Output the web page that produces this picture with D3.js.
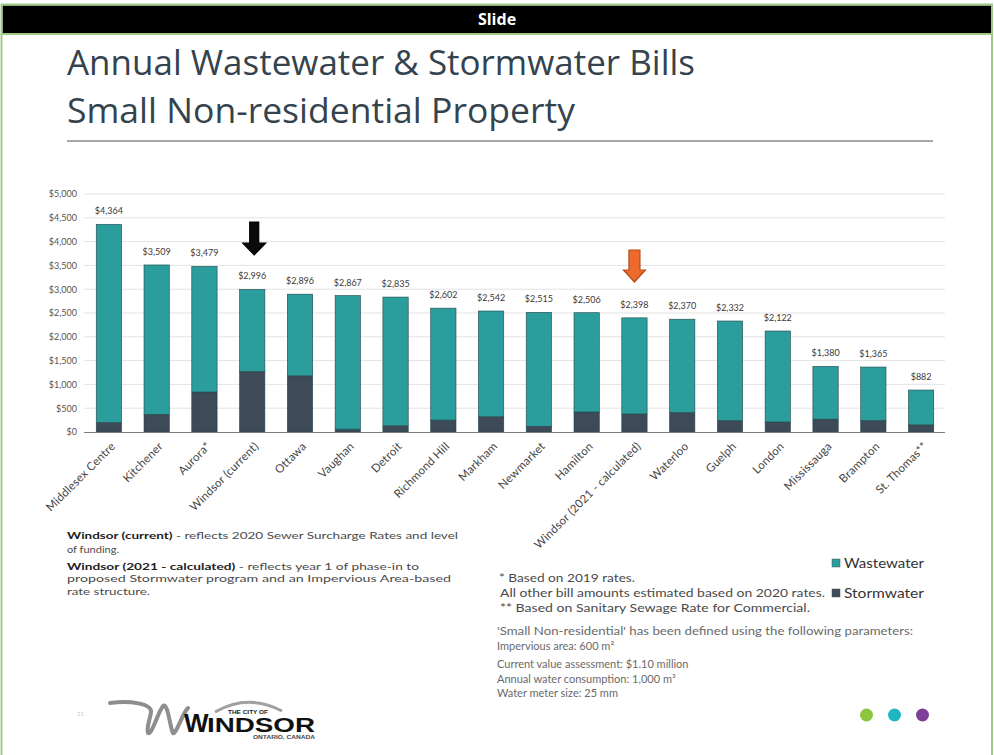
<!DOCTYPE html>
<html>
<head>
<meta charset="utf-8">
<script src="https://cdn.jsdelivr.net/npm/d3@7"></script>
<style>
  html, body { margin: 0; padding: 0; background: #fff; }
  svg { display: block; }
</style>
</head>
<body>
<svg id="slide" width="994" height="755"></svg>
<script>
// ---- Data: annual bills for a small non-residential property ----
const categories = [
  "Middlesex Centre", "Kitchener", "Aurora*", "Windsor (current)", "Ottawa",
  "Vaughan", "Detroit", "Richmond Hill", "Markham", "Newmarket", "Hamilton",
  "Windsor (2021 - calculated)", "Waterloo", "Guelph", "London",
  "Mississauga", "Brampton", "St. Thomas**"
];
const stormwater = [200, 370, 840, 1270, 1180, 60, 130, 250, 320, 120, 420, 380, 410, 240, 210, 270, 240, 150];
const wastewater = [4164, 3139, 2639, 1726, 1716, 2807, 2705, 2352, 2222, 2395, 2086, 2018, 1960, 2092, 1912, 1110, 1125, 732];
const yTicks = [0, 500, 1000, 1500, 2000, 2500, 3000, 3500, 4000, 4500, 5000];
const seriesNames = ["Wastewater", "Stormwater"];
const markedCurrent = "Windsor (current)";
const markedProposed = "Windsor (2021 - calculated)";

const colors = { Wastewater: "#2a9d9c", Stormwater: "#3e4a58" };
const bodyFont = "Lato, 'Noto Sans', sans-serif";

const svg = d3.select("#slide");

// ---- Slide frame and header ----
svg.append("rect").attr("x", 0).attr("y", 0).attr("width", 994).attr("height", 755).attr("fill", "#fff");
svg.append("rect").attr("x", 2.5).attr("y", 5.5).attr("width", 989).attr("height", 28).attr("fill", "#000");
svg.append("rect").attr("x", 1.5).attr("y", 4.5).attr("width", 990.5).attr("height", 760)
  .attr("fill", "none").attr("stroke", "#9fcc84").attr("stroke-width", 2);
svg.append("line").attr("x1", 1).attr("x2", 992).attr("y1", 34).attr("y2", 34)
  .attr("stroke", "#9fcc84").attr("stroke-width", 2);
svg.append("text").attr("x", 497).attr("y", 25).attr("text-anchor", "middle")
  .attr("fill", "#fff").attr("font-family", "'Open Sans', 'Noto Sans', sans-serif")
  .attr("font-weight", 700).attr("font-size", 16).text("Slide");

// ---- Title ----
const titleFont = "'Open Sans', 'Noto Sans', sans-serif";
svg.append("text").attr("x", 67).attr("y", 75).attr("fill", "#34434e")
  .attr("font-family", titleFont).attr("font-weight", 400).attr("font-size", 35)
  .attr("textLength", 628).attr("lengthAdjust", "spacingAndGlyphs")
  .text("Annual Wastewater & Stormwater Bills");
svg.append("text").attr("x", 67).attr("y", 122.5).attr("fill", "#34434e")
  .attr("font-family", titleFont).attr("font-weight", 400).attr("font-size", 35)
  .attr("textLength", 508).attr("lengthAdjust", "spacingAndGlyphs")
  .text("Small Non-residential Property");
svg.append("line").attr("x1", 67).attr("x2", 933).attr("y1", 141).attr("y2", 141)
  .attr("stroke", "#8a8a8a").attr("stroke-width", 1.5);

// ---- Chart scales ----
const x = d3.scaleBand().domain(categories).range([85, 945]).paddingInner(0.47).paddingOuter(0.235);
const y = d3.scaleLinear().domain([0, 5000]).range([432, 194]);

const rows = categories.map((c, i) => ({
  category: c,
  Stormwater: stormwater[i],
  Wastewater: wastewater[i],
  total: stormwater[i] + wastewater[i]
}));
const stack = d3.stack().keys(["Stormwater", "Wastewater"]);
const layers = stack(rows);

const chart = svg.append("g");

// gridlines
chart.append("g").selectAll("line").data(yTicks.filter(t => t > 0)).join("line")
  .attr("x1", 84).attr("x2", 945)
  .attr("y1", d => y(d)).attr("y2", d => y(d))
  .attr("stroke", "#e3e3e3").attr("stroke-width", 1);

// y axis labels
const yAxis = d3.axisLeft(y).tickValues(yTicks).tickSize(0).tickPadding(0)
  .tickFormat(d => "$" + d3.format(",")(d));
const yg = chart.append("g").attr("transform", "translate(77,0)").call(yAxis);
yg.select(".domain").remove();
yg.selectAll("text").attr("font-family", bodyFont).attr("font-size", 9).attr("fill", "#555");

// stacked bars
chart.append("g").selectAll("g").data(layers).join("g")
  .attr("fill", d => colors[d.key])
  .selectAll("rect").data(d => d).join("rect")
  .attr("x", d => x(d.data.category))
  .attr("width", x.bandwidth())
  .attr("y", d => y(d[1]))
  .attr("height", d => y(d[0]) - y(d[1]))
  .attr("stroke", "#24474c").attr("stroke-width", 0.6);

// x axis baseline
chart.append("line").attr("x1", 84).attr("x2", 945).attr("y1", 432.5).attr("y2", 432.5)
  .attr("stroke", "#7f7f7f").attr("stroke-width", 1.2);

// total value labels
chart.append("g").selectAll("text").data(rows).join("text")
  .attr("x", d => x(d.category) + x.bandwidth() / 2)
  .attr("y", d => y(d.total) - 10)
  .attr("text-anchor", "middle")
  .attr("font-family", bodyFont).attr("font-size", 9).attr("fill", "#3a3a3a")
  .text(d => "$" + d3.format(",")(d.total));

// category labels rotated
const xAxis = d3.axisBottom(x).tickSize(0).tickPadding(0);
const xg = chart.append("g").attr("transform", "translate(0,432)").call(xAxis);
xg.select(".domain").remove();
xg.selectAll("text")
  .attr("font-family", bodyFont).attr("font-size", 11.5).attr("fill", "#444")
  .attr("letter-spacing", 0.2)
  .attr("text-anchor", "end")
  .attr("dy", 0)
  .attr("transform", "translate(7,15) rotate(-45)");

// ---- Arrows pointing at the two Windsor bars ----
function downArrow(cx, top, shaftW, shaftLen, headW, headLen, fill, stroke) {
  const p = d3.path();
  p.moveTo(cx - shaftW / 2, top);
  p.lineTo(cx + shaftW / 2, top);
  p.lineTo(cx + shaftW / 2, top + shaftLen);
  p.lineTo(cx + headW / 2, top + shaftLen);
  p.lineTo(cx, top + shaftLen + headLen);
  p.lineTo(cx - headW / 2, top + shaftLen);
  p.lineTo(cx - shaftW / 2, top + shaftLen);
  p.closePath();
  svg.append("path").attr("d", p.toString()).attr("fill", fill)
    .attr("stroke", stroke).attr("stroke-width", 1.2).attr("stroke-linejoin", "miter");
}
downArrow(x(markedCurrent) + x.bandwidth() / 2 + 2, 222, 9, 21, 23, 12, "#0a0a0a", "#000");
downArrow(x(markedProposed) + x.bandwidth() / 2, 250, 11, 20, 22, 12, "#eb6a2c", "#b44c1c");

// ---- Legend ----
const legend = svg.append("g");
seriesNames.forEach((name, i) => {
  const ly = 563 + i * 30;
  legend.append("rect").attr("x", 832).attr("y", ly - 4).attr("width", 8).attr("height", 8)
    .attr("fill", colors[name]).attr("stroke", "#4a5a5a").attr("stroke-width", 0.5);
  legend.append("text").attr("x", 844).attr("y", ly + 4.5)
    .attr("font-family", bodyFont).attr("font-size", 13).attr("fill", "#333")
    .attr("textLength", 80).attr("lengthAdjust", "spacingAndGlyphs")
    .text(name);
});

// ---- Notes, left column ----
const notesL = svg.append("g").attr("font-family", bodyFont).attr("font-size", 10).attr("fill", "#4a4a4a");
function richLine(g, xPos, yPos, boldPart, rest, len) {
  const t = g.append("text").attr("x", xPos).attr("y", yPos);
  if (len) t.attr("textLength", len).attr("lengthAdjust", "spacingAndGlyphs");
  if (boldPart) t.append("tspan").attr("font-weight", 700).attr("fill", "#222").text(boldPart);
  t.append("tspan").text(rest);
}
richLine(notesL, 67, 539, "Windsor (current)", " - reflects 2020 Sewer Surcharge Rates and level", 391);
richLine(notesL, 67, 553, null, "of funding.", 52);
richLine(notesL, 67, 569.5, "Windsor (2021 - calculated)", " - reflects year 1 of phase-in to", 352);
richLine(notesL, 67, 582, null, "proposed Stormwater program and an Impervious Area-based", 384);
richLine(notesL, 67, 594.5, null, "rate structure.", 83);

// ---- Notes, right column ----
const notesR = svg.append("g").attr("font-family", bodyFont).attr("font-size", 12).attr("fill", "#4a4a4a");
notesR.append("text").attr("x", 499).attr("y", 582).attr("textLength", 136).attr("lengthAdjust", "spacingAndGlyphs")
  .text("* Based on 2019 rates.");
notesR.append("text").attr("x", 500).attr("y", 597).attr("textLength", 325).attr("lengthAdjust", "spacingAndGlyphs")
  .text("All other bill amounts estimated based on 2020 rates.");
notesR.append("text").attr("x", 500).attr("y", 612).attr("textLength", 310).attr("lengthAdjust", "spacingAndGlyphs")
  .text("** Based on Sanitary Sewage Rate for Commercial.");

const params = svg.append("g").attr("font-family", bodyFont).attr("font-size", 11).attr("fill", "#6a6a6a");
params.append("text").attr("x", 497).attr("y", 635).attr("textLength", 416).attr("lengthAdjust", "spacingAndGlyphs")
  .text("'Small Non-residential' has been defined using the following parameters:");
params.append("text").attr("x", 497).attr("y", 650).text("Impervious area: 600 m²");
params.append("text").attr("x", 497).attr("y", 668).text("Current value assessment: $1.10 million");
params.append("text").attr("x", 497).attr("y", 683).text("Annual water consumption: 1,000 m³");
params.append("text").attr("x", 497).attr("y", 697).text("Water meter size: 25 mm");

// ---- City logo ----
const logo = svg.append("g");
logo.append("text").attr("x", 77).attr("y", 716).attr("font-family", bodyFont)
  .attr("font-size", 6).attr("fill", "#c8c8c8").text("21");
logo.append("path")
  .attr("d", "M110,703 C130,700 152,704 151,712 C150,720 146,728 148,733 C152,735 158,712 163,706 C168,702 170,728 173,733 C176,735 182,714 188,708")
  .attr("fill", "none").attr("stroke", "#8e8e8e").attr("stroke-width", 4).attr("stroke-linecap", "round");
logo.append("path")
  .attr("d", "M215,712 Q248,693 282,711")
  .attr("fill", "none").attr("stroke", "#a0a0a0").attr("stroke-width", 3);
logo.append("text").attr("x", 184).attr("y", 732).attr("font-family", "'Liberation Sans', Arial, sans-serif")
  .attr("font-weight", 900).attr("font-size", 26).attr("fill", "#111").text("W");
logo.append("text").attr("x", 207).attr("y", 732).attr("font-family", "'Liberation Sans', Arial, sans-serif")
  .attr("font-weight", 900).attr("font-size", 20).attr("fill", "#111")
  .attr("textLength", 108).attr("lengthAdjust", "spacingAndGlyphs").text("INDSOR");
logo.append("text").attr("x", 228).attr("y", 714).attr("font-family", "'Liberation Sans', Arial, sans-serif")
  .attr("font-weight", 700).attr("font-size", 5).attr("fill", "#222")
  .attr("textLength", 40).attr("lengthAdjust", "spacingAndGlyphs").text("THE CITY OF");
logo.append("text").attr("x", 253).attr("y", 739).attr("font-family", "'Liberation Sans', Arial, sans-serif")
  .attr("font-weight", 700).attr("font-size", 4.5).attr("fill", "#444")
  .attr("textLength", 62).attr("lengthAdjust", "spacingAndGlyphs").text("ONTARIO, CANADA");

// ---- Decorative dots ----
const dotColors = ["#8cc63f", "#1fb6c1", "#7e3f98"];
svg.append("g").selectAll("circle").data(dotColors).join("circle")
  .attr("cx", (d, i) => 866.5 + i * 28)
  .attr("cy", 715)
  .attr("r", 6.5)
  .attr("fill", d => d);
</script>
</body>
</html>
